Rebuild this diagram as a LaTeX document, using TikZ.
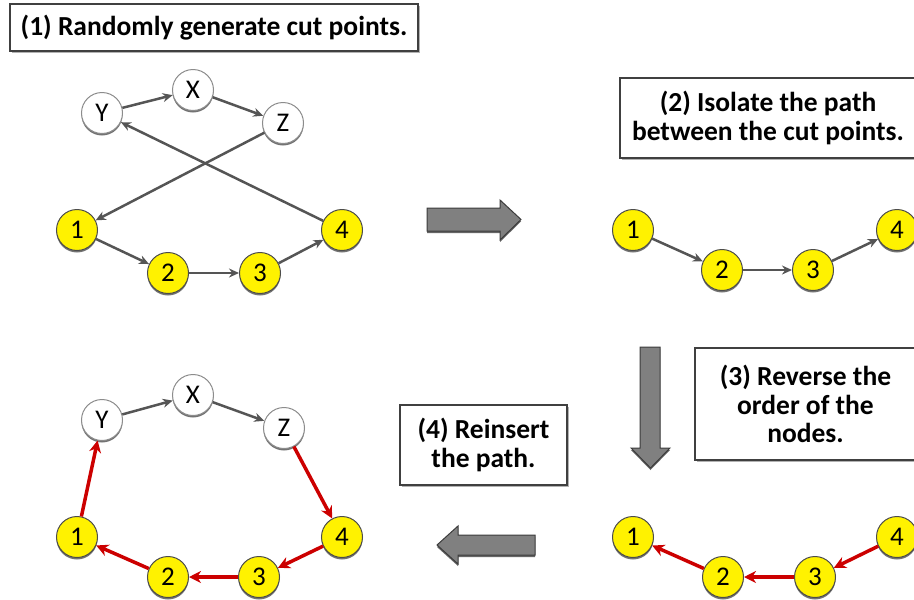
\documentclass[tikz,border=0pt]{standalone}
\usepackage{fontspec}
\setmainfont{Carlito}
\usetikzlibrary{arrows.meta,shadows}
\definecolor{edgegray}{RGB}{85,85,85}
\definecolor{cutred}{RGB}{204,0,0}
\definecolor{boxline}{RGB}{64,64,64}
\definecolor{blockgray}{RGB}{128,128,128}
\definecolor{blockedge}{RGB}{60,60,60}
\begin{document}
\begin{tikzpicture}[x=1pt,y=-1pt,
  labelfont/.style={font=\fontsize{27}{27}\selectfont},
  cutnode/.style={circle, minimum size=41pt, inner sep=0pt, fill=yellow,
    draw=black!70, line width=1pt, labelfont,
    drop shadow={shadow xshift=0pt, shadow yshift=-2pt, opacity=0.55, fill=black}},
  othernode/.style={cutnode, fill=white, draw=black!45},
  stepbox/.style={draw=boxline, line width=2.2pt, fill=white, align=center,
    font=\bfseries\fontsize{27.5}{28.5}\selectfont, inner sep=0pt,
    drop shadow={shadow xshift=1.5pt, shadow yshift=-1.5pt, opacity=0.3, fill=black}},
  grayedge/.style={draw=edgegray, line width=2.5pt, -{Stealth[length=10pt,width=9pt]}},
  revedge/.style={draw=cutred, line width=3.5pt, -{Stealth[length=12pt,width=12pt]}},
  blockarrow/.style={fill=blockgray, draw=blockedge, line width=1pt, line join=miter,
    drop shadow={shadow xshift=0pt, shadow yshift=-2pt, opacity=0.6, fill=black}}
]
\useasboundingbox (0,0) rectangle (914,600);

% ---- step labels ----
\node[stepbox, minimum width=408pt, minimum height=47pt] (b1) at (214,27.5)
  {(1) Randomly generate cut points.};
\node[stepbox, minimum width=296pt, minimum height=80pt] (b2) at (768,118)
  {(2) Isolate the path\\between the cut points.};
\node[stepbox, minimum width=221pt, minimum height=112pt] (b3) at (805.5,404)
  {(3) Reverse the\\order of the\\nodes.};
\node[stepbox, minimum width=167pt, minimum height=80pt] (b4) at (483.5,445)
  {(4) Reinsert\\the path.};

% ---- block arrows between stages ----
\draw[blockarrow] (427,208) -- (500,208) -- (500,200) -- (521,219.5) -- (500,240)
  -- (500,231) -- (427,231) -- cycle;
\draw[blockarrow] (640,347) -- (660,347) -- (660,448) -- (670,448) -- (650.5,468)
  -- (631,448) -- (640,448) -- cycle;
\draw[blockarrow] (535,535) -- (458,535) -- (458,526) -- (437,545) -- (458,564)
  -- (458,555) -- (535,555) -- cycle;

% ---- stage 1: original tour ----
\node[othernode] (aY) at (102,113) {Y};
\node[othernode] (aX) at (193,90) {X};
\node[othernode] (aZ) at (283,123) {Z};
\node[cutnode] (a1) at (77,230) {1};
\node[cutnode] (a2) at (168,273) {2};
\node[cutnode] (a3) at (260,273) {3};
\node[cutnode] (a4) at (342,230) {4};
\draw[grayedge] (aY) -- (aX);
\draw[grayedge] (aX) -- (aZ);
\draw[grayedge] (aZ) -- (a1);
\draw[grayedge] (a4) -- (aY);
\draw[grayedge] (a1) -- (a2);
\draw[grayedge] (a2) -- (a3);
\draw[grayedge] (a3) -- (a4);

% ---- stage 2: isolated path ----
\node[cutnode] (c1) at (633,230) {1};
\node[cutnode] (c2) at (722,270) {2};
\node[cutnode] (c3) at (813,270) {3};
\node[cutnode] (c4) at (897,230) {4};
\draw[grayedge] (c1) -- (c2);
\draw[grayedge] (c2) -- (c3);
\draw[grayedge] (c3) -- (c4);

% ---- stage 3: reversed path ----
\node[cutnode] (r1) at (633,537) {1};
\node[cutnode] (r2) at (723,577) {2};
\node[cutnode] (r3) at (815,577) {3};
\node[cutnode] (r4) at (897,537) {4};
\draw[revedge] (r4) -- (r3);
\draw[revedge] (r3) -- (r2);
\draw[revedge] (r2) -- (r1);

% ---- stage 4: new tour ----
\node[othernode] (dY) at (102,420) {Y};
\node[othernode] (dX) at (193,395) {X};
\node[othernode] (dZ) at (284,428) {Z};
\node[cutnode] (d1) at (77,537) {1};
\node[cutnode] (d2) at (168,577) {2};
\node[cutnode] (d3) at (259,577) {3};
\node[cutnode] (d4) at (342,537) {4};
\draw[grayedge] (dY) -- (dX);
\draw[grayedge] (dX) -- (dZ);
\draw[revedge] (dZ) -- (d4);
\draw[revedge] (d4) -- (d3);
\draw[revedge] (d3) -- (d2);
\draw[revedge] (d2) -- (d1);
\draw[revedge] (d1) -- (dY);
\end{tikzpicture}
\end{document}
